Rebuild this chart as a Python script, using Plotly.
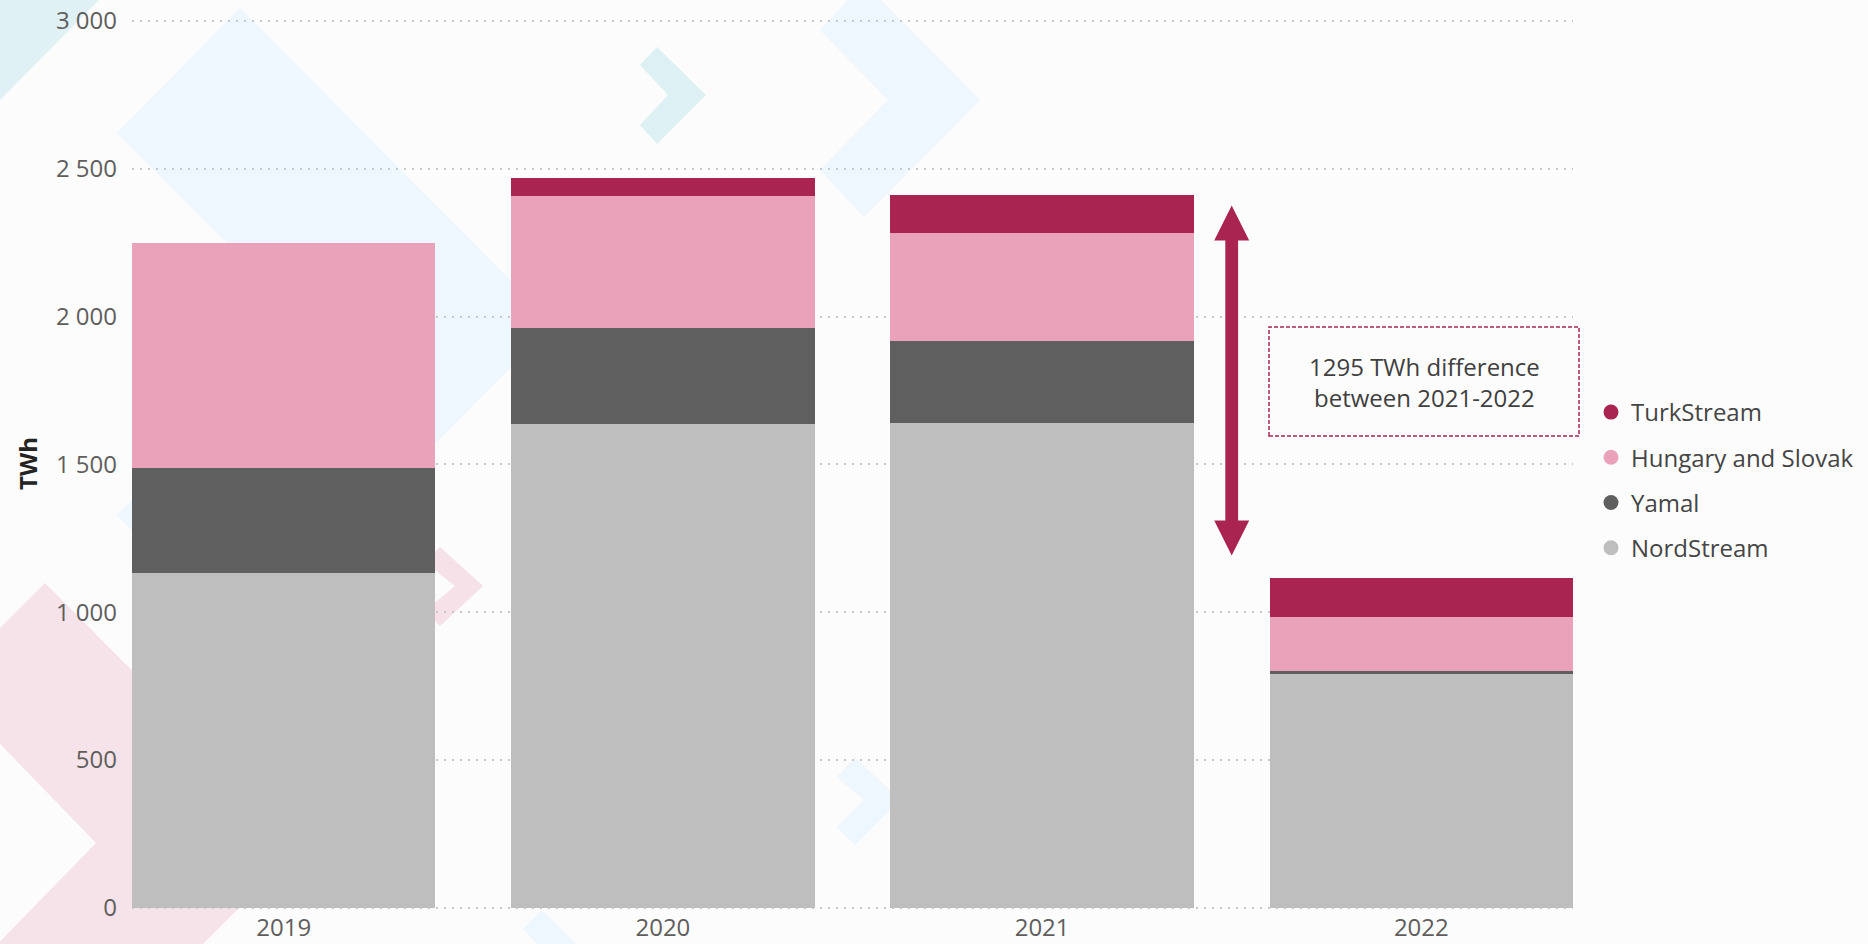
import plotly.graph_objects as go

# ---------------- data ----------------
years = ["2019", "2020", "2021", "2022"]
nordstream = [1134, 1637, 1640, 790]
yamal = [354, 323, 279, 10]
hungary_slovak = [761, 448, 363, 183]
turkstream = [0, 60, 129, 134]

series_names = ["NordStream", "Yamal", "Hungary and Slovak", "TurkStream"]
y_ticks = [0, 500, 1000, 1500, 2000, 2500, 3000]

note_text = "1295 TWh difference<br>between 2021-2022"

# ---------------- styles ----------------
colors = {
    "NordStream": "#BEBEBE",
    "Yamal": "#5F5F5F",
    "Hungary and Slovak": "#EAA2BB",
    "TurkStream": "#A92451",
}
FONT = "Segoe UI, Open Sans, sans-serif"
W, H = 1868, 944
ML, MR, MT, MB = 132, 295, 18, 35
PW, PH = W - ML - MR, H - MT - MB

values = {
    "NordStream": nordstream,
    "Yamal": yamal,
    "Hungary and Slovak": hungary_slovak,
    "TurkStream": turkstream,
}

fig = go.Figure()
for name in series_names:
    fig.add_trace(go.Bar(
        x=years, y=values[name], name=name,
        marker=dict(color=colors[name], line=dict(width=0)),
        showlegend=False,
    ))

# legend entries with round markers
for name in reversed(series_names):
    fig.add_trace(go.Scatter(
        x=[None], y=[None], mode="markers", name=name, legendgroup=name,
        marker=dict(color=colors[name], size=15, symbol="circle"),
        showlegend=True,
    ))

# ---------------- background decoration (pixel -> paper) ----------------
def px2paper(pts):
    return [((x - ML) / PW, (H - MB - y) / PH) for x, y in pts]

def poly_path(pts):
    p = px2paper(pts)
    return "M " + " L ".join(f"{x:.5f},{y:.5f}" for x, y in p) + " Z"

deco = [
    ("#DFF1F4", [(0, 0), (99, 0), (0, 100), (-10, 90)]),
    ("#EEF6FE", [(240, 8), (554, 324), (240, 640), (117, 515), (308, 324), (117, 133)]),
    ("#EEF6FE", [(864, -17), (980, 100), (864, 217), (820, 170), (888, 100), (820, 30)]),
    ("#DDF0F3", [(657, 47), (706, 95), (657, 144), (640, 125), (668, 95), (640, 65)]),
    ("#F5E1E7", [(440, 547), (483, 586), (440, 626), (425, 611), (455, 586), (425, 562)]),
    ("#F5E3E9", [(45, 583), (304, 843), (45, 1102), (-57, 1000), (96, 843), (-57, 685)]),
    ("#EEF6FE", [(855, 757), (900, 800), (855, 845), (837, 827), (864, 800), (837, 777)]),
    ("#EEF6FE", [(542, 910), (600, 968), (542, 1026), (523, 1007), (560, 968), (523, 929)]),
]
shapes = []
for col, pts in deco:
    shapes.append(dict(type="path", xref="paper", yref="paper", path=poly_path(pts),
                       fillcolor=col, line=dict(width=0), layer="below"))

# ---------------- annotation: dashed box, arrow ----------------
ARROW_X = 2.5
ARROW_TOP = 2376
L, HW, HH, SW = 350, 17.5, 35, 6.4
arrow_path = (f"M 0,0 L {HW},{-HH} L {SW},{-HH} L {SW},{-(L-HH)} L {HW},{-(L-HH)} "
              f"L 0,{-L} L {-HW},{-(L-HH)} L {-SW},{-(L-HH)} L {-SW},{-HH} L {-HW},{-HH} Z")
shapes.append(dict(type="path", xref="x", yref="y", xsizemode="pixel", ysizemode="pixel",
                   xanchor=ARROW_X, yanchor=ARROW_TOP, path=arrow_path,
                   fillcolor="#A92451", line=dict(width=0), layer="above"))

# dashed note box (pixel box -> paper)
(bx0, by0), (bx1, by1) = px2paper([(1269, 436), (1579, 327)])
shapes.append(dict(type="rect", xref="paper", yref="paper", x0=bx0, x1=bx1, y0=by0, y1=by1,
                   line=dict(color="#A92451", width=1.5, dash="4px,2px"),
                   fillcolor="rgba(0,0,0,0)", layer="above"))

fig.add_annotation(x=(bx0 + bx1) / 2, y=(by0 + by1) / 2, xref="paper", yref="paper",
                   xanchor="center", yanchor="middle",
                   text=note_text, showarrow=False,
                   font=dict(family=FONT, size=24, color="#404040"), align="center")

fig.update_layout(
    width=W, height=H,
    margin=dict(l=ML, r=MR, t=MT, b=MB, autoexpand=False),
    paper_bgcolor="#FCFCFC", plot_bgcolor="rgba(0,0,0,0)",
    barmode="stack", bargap=0.2,
    separators=". ",
    shapes=shapes,
    font=dict(family=FONT, color="#605E5C"),
    legend=dict(
        xref="container", yref="container",
        x=1591 / W, y=1 - 390 / H, xanchor="left", yanchor="top",
        font=dict(family=FONT, size=24, color="#454545"),
        traceorder="grouped", tracegroupgap=11,
        bgcolor="rgba(0,0,0,0)", itemclick=False,
    ),
    xaxis=dict(
        type="category", range=[-0.4, 3.4], showgrid=False, showline=False, zeroline=False,
        ticks="", tickfont=dict(family=FONT, size=24, color="#605E5C"),
        ticklabelstandoff=2, automargin=False,
    ),
    yaxis=dict(
        range=[-4, 3010], tickvals=y_ticks, tickformat=",d",
        showgrid=True, gridcolor="#C8C8C8", griddash="2px,6px", gridwidth=1.5,
        zeroline=False, showline=False, ticks="", automargin=False,
        tickfont=dict(family=FONT, size=24, color="#605E5C"),
        ticklabelstandoff=14,
        title=dict(text="<b>TWh</b>", font=dict(family=FONT, size=24, color="#252423"), standoff=11),
    ),
)

fig.write_html("out.html", config={"displayModeBar": False},
               post_script="document.body.style.margin='0';document.body.style.overflow='hidden';")
